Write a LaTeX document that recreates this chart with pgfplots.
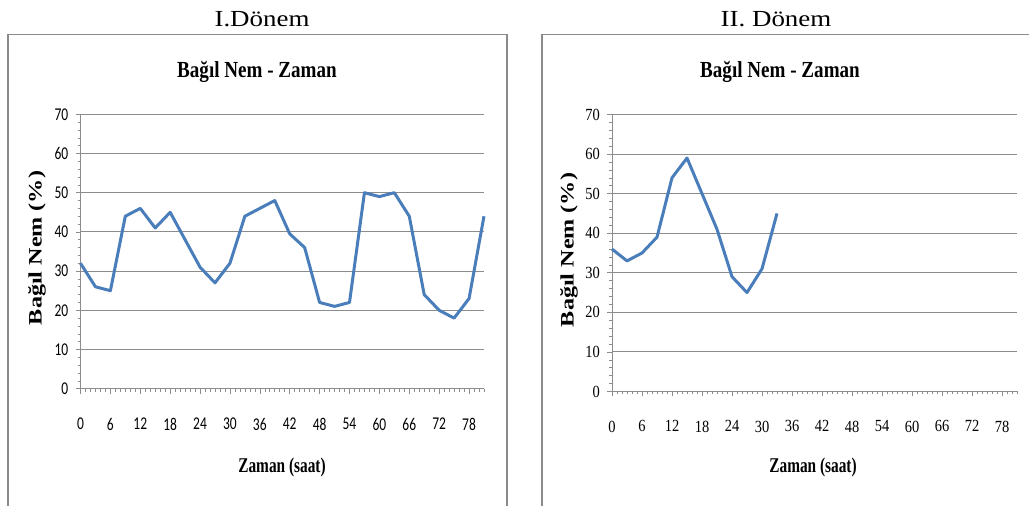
\documentclass[border=0pt]{standalone}
\usepackage{fontspec}
\setmainfont{Liberation Serif}
\newfontfamily\carlito{Carlito}
\usepackage{graphicx}
\usepackage{pgfplots}
\pgfplotsset{compat=1.18}
\definecolor{linebl}{HTML}{4A7EBB}
\definecolor{gridg}{HTML}{8C8C8C}
\definecolor{boxg}{HTML}{8A8A8A}
\pgfplotsset{
  myaxis/.style={
    scale only axis,
    xmin=0, xmax=81, ymin=0, ymax=70,
    axis x line*=bottom, axis y line*=left,
    axis line style={gridg, line width=1pt, -},
    xtick={0,6,...,78}, minor xtick={0,1,...,81},
    ytick={0,10,...,70}, minor ytick={0,2,...,70},
    tick align=outside,
    major tick length=5pt, minor tick length=3pt,
    every tick/.style={gridg, line width=0.6pt},
    ymajorgrids,
    major grid style={gridg, line width=1pt},
    clip=false,
  }
}
\begin{document}
\begin{tikzpicture}[x=1pt,y=1pt]
\useasboundingbox (0,0) rectangle (1029,506);
% panel boxes
\draw[boxg, line width=1.3pt] (8,-20) -- (8,471.5) -- (507,471.5) -- (507,-20);
\draw[boxg, line width=1.3pt] (542,-20) -- (542,471.5) -- (1040,471.5);
% headings
\node at (262,487) {\fontsize{23}{23}\selectfont\scalebox{1.17}[1]{I.Dönem}};
\node at (776,487) {\fontsize{23}{23}\selectfont\scalebox{1.17}[1]{II. Dönem}};
% titles
\node at (257,434) {\fontsize{23}{23}\selectfont\bfseries\scalebox{0.83}[1]{Bağıl Nem - Zaman}};
\node at (780,434) {\fontsize{23}{23}\selectfont\bfseries\scalebox{0.83}[1]{Bağıl Nem - Zaman}};
% x labels
\node at (282,39) {\fontsize{21}{21}\selectfont\bfseries\scalebox{0.73}[1]{Zaman (saat)}};
\node at (813,39) {\fontsize{21}{21}\selectfont\bfseries\scalebox{0.73}[1]{Zaman (saat)}};
% y labels
\node[rotate=90] at (37,258) {\fontsize{19}{19}\selectfont\bfseries\scalebox{1.27}[1]{Bağıl Nem (\%)}};
\node[rotate=90] at (569,256) {\fontsize{19}{19}\selectfont\bfseries\scalebox{1.27}[1]{Bağıl Nem (\%)}};

\begin{axis}[myaxis,
  at={(80.5pt,117.3pt)}, anchor=south west,
  width=403.5pt, height=274.4pt,
  yticklabel style={font=\carlito\fontsize{18}{18}\selectfont, inner sep=0pt, anchor=east, xshift=-7pt},
  xticklabel style={font=\carlito\fontsize{18}{18}\selectfont, inner sep=0pt, anchor=north, yshift=-24pt},
  /pgf/number format/assume math mode=true,
  xticklabel={\scalebox{0.75}[1]{\pgfmathprintnumber{\tick}}},
  yticklabel={\scalebox{0.75}[1]{\pgfmathprintnumber{\tick}}},
]
\addplot[linebl, line width=3pt, line join=round] coordinates {
(0,32) (3,26) (6,25) (9,44) (12,46) (15,41) (18,45) (21,38) (24,31) (27,27)
(30,32) (33,44) (36,46) (39,48) (42,39.5) (45,36) (48,22) (51,21) (54,22) (57,50)
(60,49) (63,50) (66,44) (69,24) (72,20) (75,18) (78,23) (81,44)
};
\end{axis}

\begin{axis}[myaxis,
  at={(612pt,114.5pt)}, anchor=south west,
  width=405pt, height=277pt,
  yticklabel style={font=\fontsize{17}{17}\selectfont, inner sep=0pt, anchor=east, xshift=-7pt},
  xticklabel style={font=\fontsize{17}{17}\selectfont, inner sep=0pt, anchor=north, yshift=-24pt},
  /pgf/number format/assume math mode=true,
  xticklabel={\scalebox{0.85}[1]{\pgfmathprintnumber{\tick}}},
  yticklabel={\scalebox{0.85}[1]{\pgfmathprintnumber{\tick}}},
]
\addplot[linebl, line width=3pt, line join=round] coordinates {
(0,36) (3,33) (6,35) (9,39) (12,54) (15,59) (18,50) (21,41) (24,29) (27,25)
(30,31) (33,45)
};
\end{axis}
\end{tikzpicture}
\end{document}
